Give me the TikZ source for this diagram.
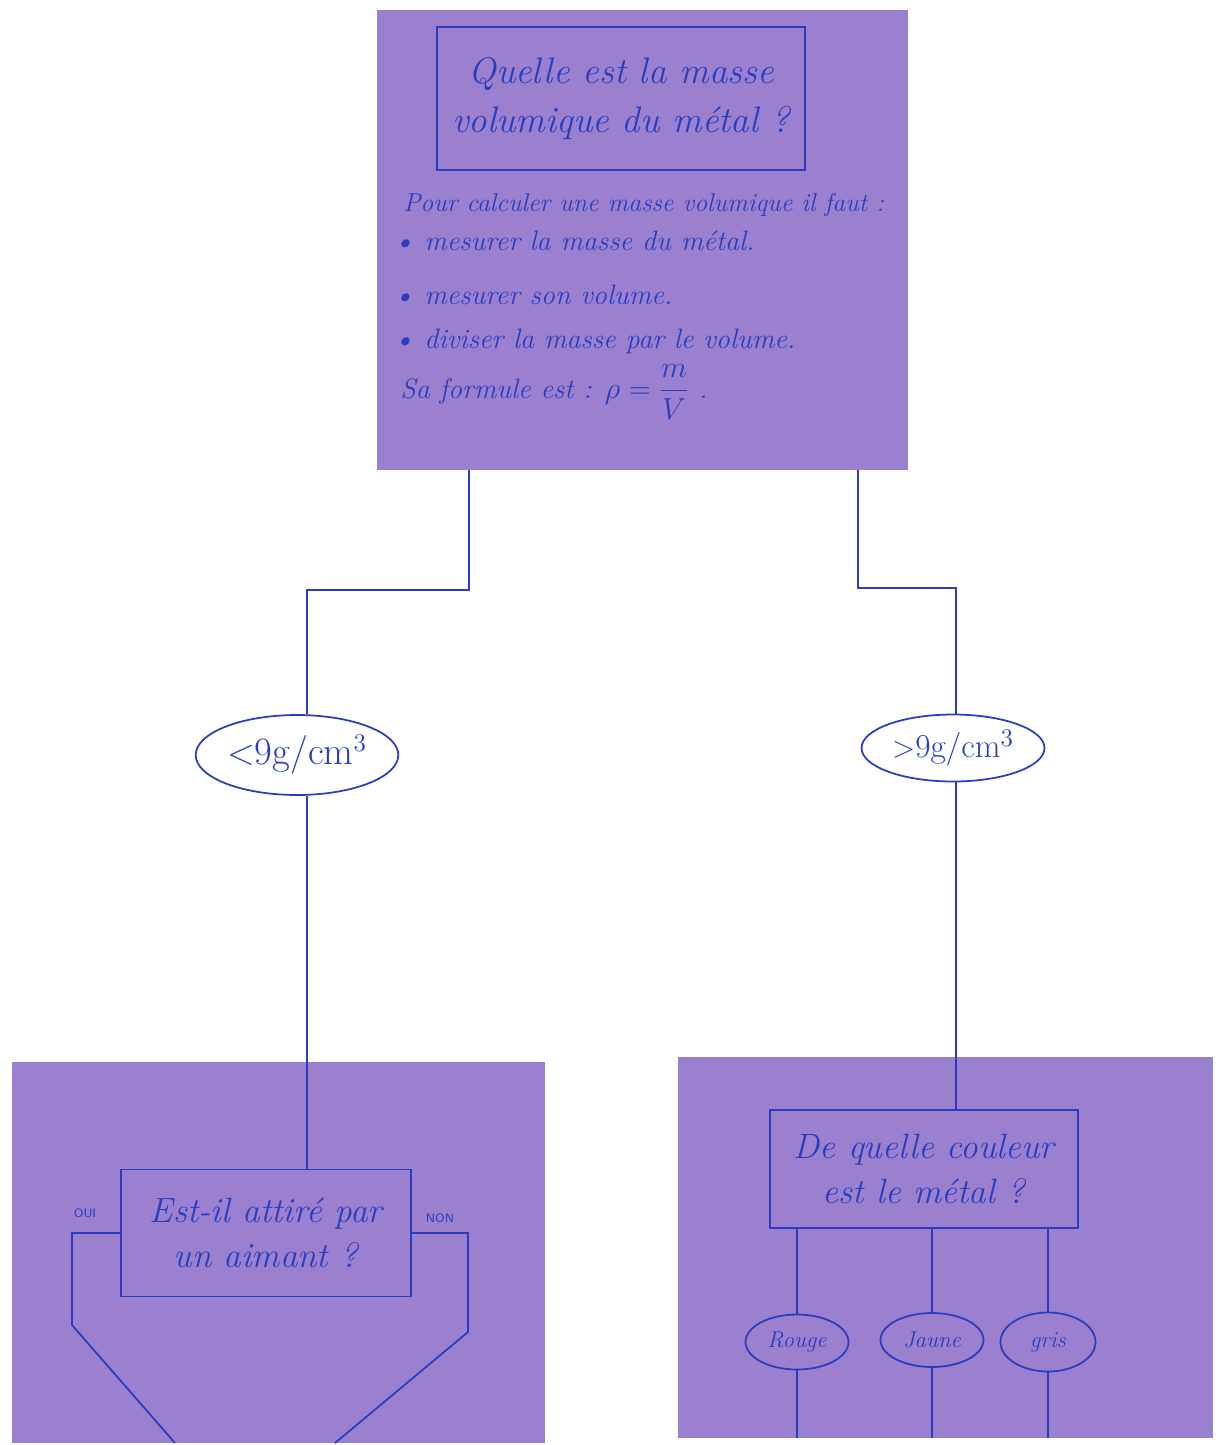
\documentclass[tikz,border=0pt]{standalone}
\usepackage{tikz}
\usetikzlibrary{shapes.geometric}

\definecolor{lilac}{RGB}{155,128,207}
\definecolor{ink}{RGB}{40,62,190}

\tikzset{
  card/.style={fill=lilac, inner sep=0pt},
  qbox/.style={draw=ink, line width=1pt, align=center, text=ink, font=\fontsize{20}{26}\selectfont\itshape},
  oval/.style={draw=ink, ellipse, line width=1pt, text=ink, inner sep=1pt, font=\fontsize{13}{15}\selectfont\itshape},
  txt/.style={text=ink, anchor=west, inner sep=0pt, font=\fontsize{16}{19}\selectfont\itshape},
  link/.style={ink, line width=1pt}
}

\begin{document}
\begin{tikzpicture}[x=0.02cm, y=-0.02cm]
\useasboundingbox (0,0) rectangle (1219,1445);

\node[card, minimum width=10.62cm, minimum height=9.2cm] (c1) at (642.5,240) {};
\node[card, minimum width=10.66cm, minimum height=7.62cm] (c3) at (278.5,1252.5) {};
\node[card, minimum width=10.7cm, minimum height=7.62cm] (c4) at (945.5,1247.5) {};

\node[qbox, minimum width=7.36cm, minimum height=2.86cm, font=\fontsize{21}{28}\selectfont\itshape] (t1) at (621,98.5) {Quelle est la masse\\volumique du métal ?};

\node[txt, font=\fontsize{14.7}{17}\selectfont\itshape] (l1) at (403,205) {Pour calculer une masse volumique il faut :};
\node[txt] (l2) at (393,241) {\textbullet\ mesurer la masse du métal.};
\node[txt] (l3) at (393,295) {\textbullet\ mesurer son volume.};
\node[txt] (l4) at (393,341) {\textbullet\ diviser la masse par le volume.};
\node[txt] (l5) at (400,392) {Sa formule est : $\rho = \displaystyle\frac{m}{V}$ .};

\node[oval, minimum width=4.02cm, minimum height=1.6cm, font=\fontsize{22}{26}\selectfont] (lt) at (297,755) {$<$9g/cm$^3$};
\node[oval, minimum width=3.66cm, minimum height=1.34cm, inner sep=0pt, font=\fontsize{19}{23}\selectfont] (rt) at (953,748) {$>$9g/cm$^3$};

\node[qbox, minimum width=5.8cm, minimum height=2.54cm] (q1) at (266,1233) {Est-il attiré par\\un aimant ?};
\node[qbox, minimum width=6.16cm, minimum height=2.36cm] (q2) at (924,1169) {De quelle couleur\\est le métal ?};

\node[text=ink, font=\sffamily\scriptsize] (oui) at (85,1213) {OUI};
\node[text=ink, font=\sffamily\scriptsize] (non) at (440,1218) {NON};

\node[oval, minimum width=2.06cm, minimum height=1.1cm] (r1) at (797,1342) {Rouge};
\node[oval, minimum width=2.06cm, minimum height=1.08cm] (r2) at (932,1340) {Jaune};
\node[oval, minimum width=1.9cm, minimum height=1.18cm] (r3) at (1048,1342) {gris};

\coordinate (s1) at (469,470);
\coordinate (k1) at (307,590);
\coordinate (s2) at (858,470);
\coordinate (k2) at (956,588);

\draw[link] (s1) |- (k1) -- (k1 |- lt.north);
\draw[link] (k1 |- lt.south) -- (k1 |- q1.north);
\draw[link] (s2) |- (k2) -- (k2 |- rt.north);
\draw[link] (k2 |- rt.south) -- (k2 |- q2.north);

\coordinate (a1) at (72,1325);
\coordinate (a2) at (175,1443);
\coordinate (b1) at (468,1332);
\coordinate (b2) at (335,1443);
\draw[link] (q1.west) -| (a1) -- (a2);
\draw[link] (q1.east) -| (b1) -- (b2);

\foreach \lbl in {r1,r2,r3} {
  \draw[link] (\lbl.north |- q2.south) -- (\lbl.north);
  \draw[link] (\lbl.south) -- (\lbl.south |- c4.south);
}

\end{tikzpicture}
\end{document}
